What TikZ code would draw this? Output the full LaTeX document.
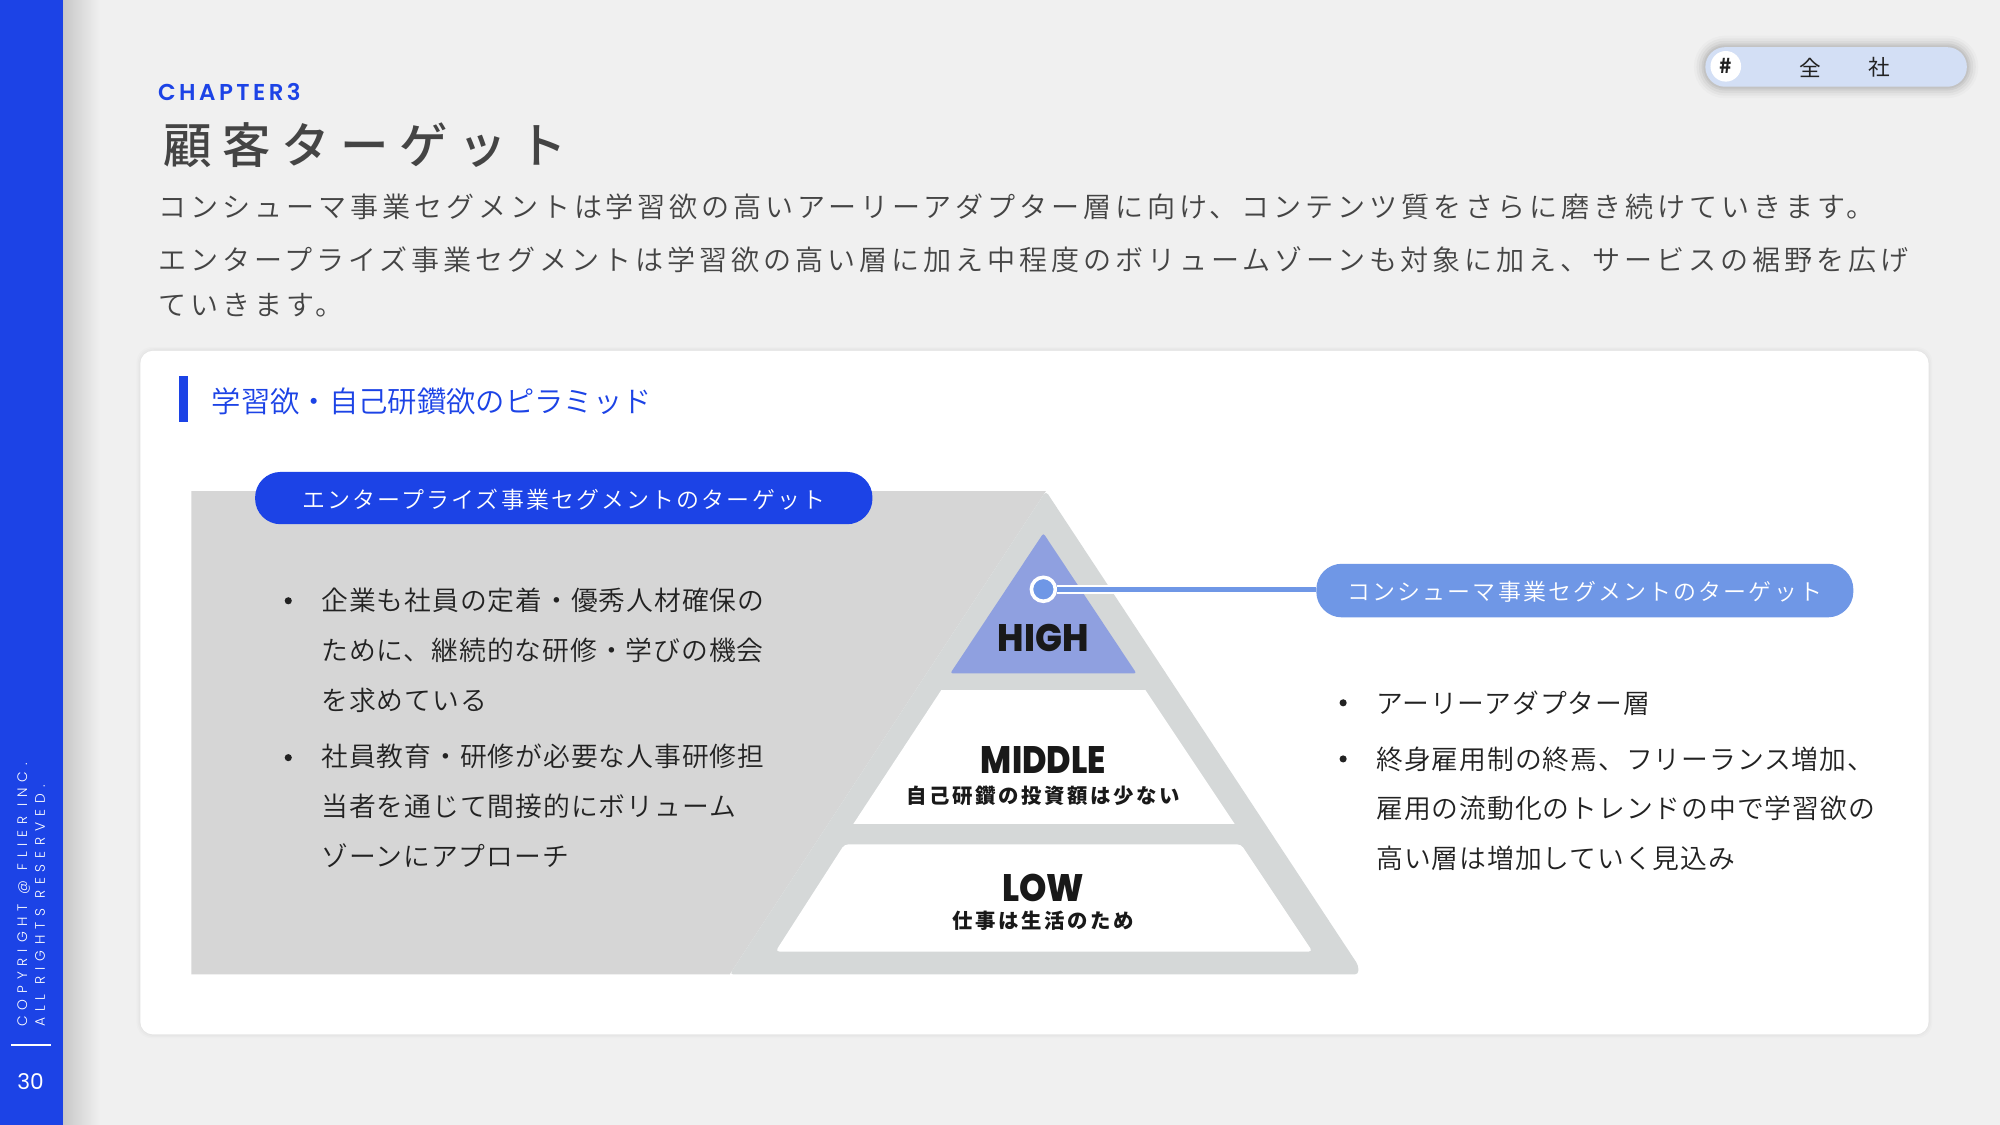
\documentclass[tikz,border=0pt]{standalone}
\usepackage{fontspec}
\setmainfont{Noto Sans CJK JP}
\newfontfamily\jp{Noto Sans CJK JP}
\newfontfamily\jpm{Noto Sans CJK JP Medium}
\newfontfamily\jpl{Noto Sans CJK JP DemiLight}
\newfontfamily\lat{Poppins}
\newfontfamily\latm{Poppins SemiBold}
\newfontfamily\latx{Poppins ExtraBold}
\newfontfamily\latl{Poppins Light}
\usetikzlibrary{shadows,fadings,calc}
\definecolor{bgc}{HTML}{F0F0F0}
\definecolor{blue1}{HTML}{1C43E6}
\definecolor{blue2}{HTML}{6F97E6}
\definecolor{high}{HTML}{8FA0E0}
\definecolor{gr1}{HTML}{D6D6D6}
\definecolor{gr2}{HTML}{D5D8D8}
\definecolor{tagc}{HTML}{D3DFF5}
\definecolor{txt}{HTML}{444444}
\definecolor{ink}{HTML}{222222}
\newcommand{\fs}[2]{\fontsize{#1}{#1}\selectfont\addfontfeature{LetterSpace=#2}}
\tikzset{
  lab/.style={inner sep=0pt,outer sep=0pt},
  bodyline/.style={lab,anchor=west,text=txt,font=\jpl\fs{11}{14}},
  itemline/.style={lab,anchor=west,text=ink,font=\jpl\fs{10.5}{3.6}},
  bul/.style={circle,fill=ink,inner sep=0pt,minimum size=2.8pt},
  pillbox/.style={rounded corners=10pt,inner sep=0pt,text=white,text height=7.8pt,text depth=0pt,font=\jpl\fs{9}{9.3}},
  level/.style={lab,text=black!90,font=\latx\fontsize{15}{15}\selectfont},
  sublevel/.style={lab,text=black!90,font=\jp\bfseries\fs{8}{12.5}},
  sidetext/.style={lab,anchor=west,rotate=90,text=white,font=\latl\fs{5.4}{43}},
}
\begin{document}
\begin{tikzpicture}[x=.5pt,y=-.5pt]
\useasboundingbox (0,0) rectangle (1568,882);
\fill[bgc] (0,0) rectangle (1568,882);
% sidebar shadow and sidebar
\shade[left color=black!22,right color=bgc] (49,0) rectangle (78,882);
\fill[blue1] (0,0) rectangle (49,882);
\node[sidetext] (copy1) at (18.5,805) {COPYRIGHT @ FLIER INC.};
\node[sidetext] (copy2) at (31.5,805) {ALL RIGHTS RESERVED.};
\coordinate (ruleA) at (9,819);
\coordinate (ruleB) at (40,819);
\draw[white,line width=.7pt] (ruleA) -- (ruleB);
\node[lab,text=white,font=\lat\fontsize{8.5}{8.5}\selectfont] (page) at (24,848) {30};
% tag
\foreach \w/\o in {9/.02,7/.03,5/.04,3/.05,1.5/.05}
  \draw[black,opacity=\o,line width=\w pt,rounded corners=7.7pt] (1337,37) rectangle (1542,68);
\fill[tagc,rounded corners=7.7pt] (1337,37) rectangle (1542,68);
\node[circle,fill=white,minimum size=12pt,inner sep=0pt,text=ink,font=\jp\bfseries\fontsize{8}{8}\selectfont] (hash) at (1353,52) {\#};
\node[lab,text=ink,font=\jp\fs{8.5}{0}] (zen) at (1419,53) {全};
\node[lab,text=ink,font=\jp\fs{8.5}{0}] (sha) at (1473,53) {社};
% header
\node[lab,anchor=west,text=blue1,font=\latm\fs{9}{15}] (chapter) at (124,72) {CHAPTER3};
\node[lab,anchor=west,text=txt,font=\jpm\fs{19}{22}] (title) at (128,114) {顧客ターゲット};
\node[bodyline] (b1) at (124,162) {コンシューマ事業セグメントは学習欲の高いアーリーアダプター層に向け、コンテンツ質をさらに磨き続けていきます。};
\node[bodyline] (b2) at (124,204) {エンタープライズ事業セグメントは学習欲の高い層に加え中程度のボリュームゾーンも対象に加え、サービスの裾野を広げ};
\node[bodyline] (b3) at (124,239) {ていきます。};
% card
\foreach \d/\o in {3/.012,2/.014,1/.016}
  \fill[black,opacity=\o,rounded corners=6pt] (110-\d,275-\d) rectangle (1512+\d,811+\d);
\fill[white,rounded corners=5pt] (110,275) rectangle (1512,811);
\fill[blue1] (140,295) rectangle (147,331);
\node[lab,anchor=west,text=blue1,font=\jpl\fs{11.5}{0}] (head) at (166,315) {学習欲・自己研鑽欲のピラミッド};
% grey field
\fill[gr1] (150,385) -- (820,385) -- (572,764) -- (150,764) -- cycle;
\fill[gr2,rounded corners=1.5pt] (820,385) -- (1065,757) -- (1065,764) -- (572,764) -- cycle;
% levels
\fill[high,rounded corners=1pt] (818,418) -- (891,528) -- (745,528) -- cycle;
\fill[white] (738,541) -- (898,541) -- (968,646) -- (669,646) -- cycle;
\fill[white,rounded corners=1.5pt] (662,662) -- (973,662) -- (1029,746) -- (608,746) -- cycle;
\node[level] (hi) at (818,500) {\scalebox{.93}[1]{HIGH}};
\node[level] (mid) at (818,596) {\scalebox{.87}[1]{MIDDLE}};
\node[sublevel] (midsub) at (818,624) {自己研鑽の投資額は少ない};
\node[level] (lo) at (818,696) {\scalebox{.91}[1]{LOW}};
\node[sublevel] (losub) at (818,722) {仕事は生活のため};
% pills
\node[pillbox,fill=blue1,minimum width=242pt,minimum height=20.5pt] (ent) at (442,390.5) {エンタープライズ事業セグメントのターゲット};
\node[pillbox,fill=blue2,minimum width=210.5pt,minimum height=21pt] (con) at (1242.5,463) {コンシューマ事業セグメントのターゲット};
% connector
\node[circle,draw=white,line width=1.4pt,fill=blue2,minimum size=9.4pt,inner sep=0pt] (dot) at (818,462) {};
\draw[white,line width=3.6pt] (dot.east) -- (dot.east -| con.west);
\draw[blue2,line width=1.9pt] (dot.east) -- (dot.east -| con.west);
% left bullets
\node[bul] (lb1) at (226,471) {};
\node[itemline] (l1) at (252,471) {企業も社員の定着・優秀人材確保の};
\node[itemline] (l2) at (252,510) {ために、継続的な研修・学びの機会};
\node[itemline] (l3) at (252,549) {を求めている};
\node[bul] (lb2) at (226,594) {};
\node[itemline] (l4) at (252,593) {社員教育・研修が必要な人事研修担};
\node[itemline] (l5) at (252,632) {当者を通じて間接的にボリューム};
\node[itemline] (l6) at (252,671) {ゾーンにアプローチ};
% right bullets
\node[bul] (rb1) at (1053,551) {};
\node[itemline] (r1) at (1079,551) {アーリーアダプター層};
\node[bul] (rb2) at (1053,595) {};
\node[itemline] (r2) at (1079,595) {終身雇用制の終焉、フリーランス増加、};
\node[itemline] (r3) at (1079,634) {雇用の流動化のトレンドの中で学習欲の};
\node[itemline] (r4) at (1079,673) {高い層は増加していく見込み};
\end{tikzpicture}
\end{document}
